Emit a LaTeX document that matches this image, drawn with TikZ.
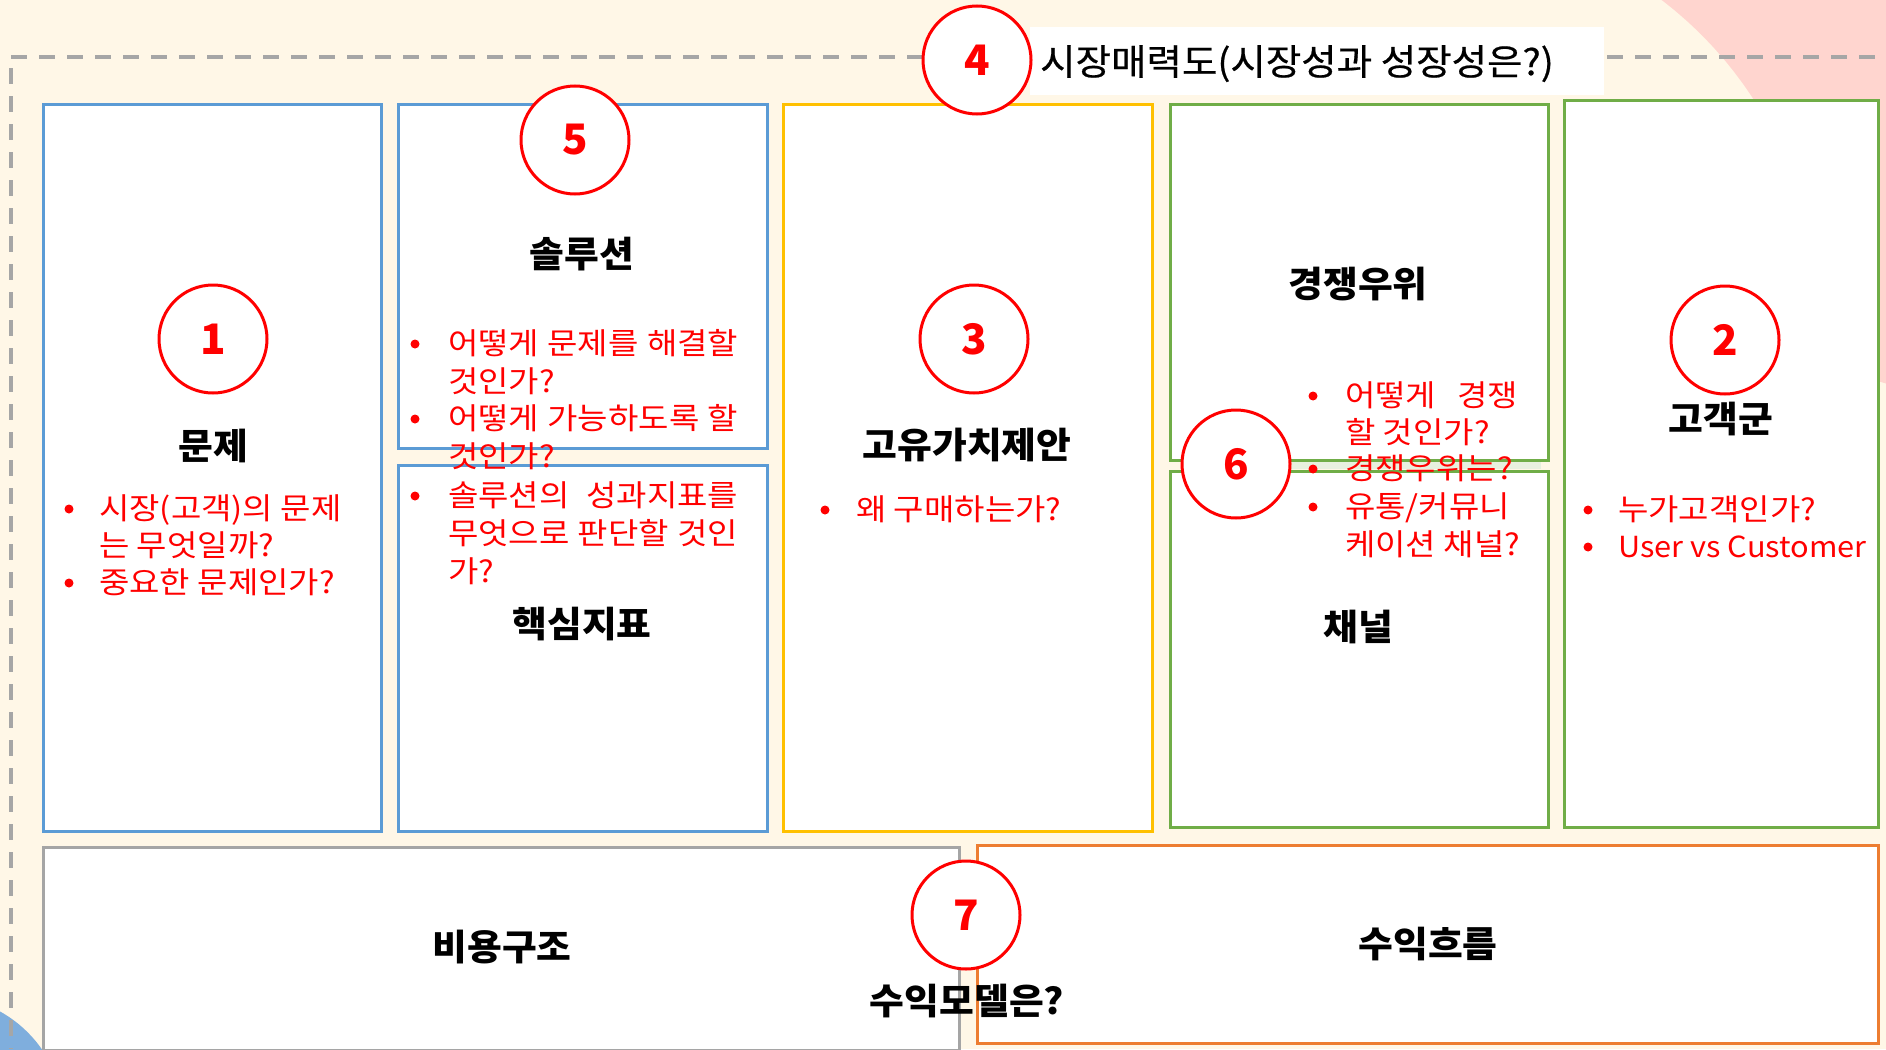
\documentclass[tikz,border=0pt]{standalone}
\usepackage{fontspec}
\setmainfont{Noto Sans CJK KR}
\newfontfamily\redfont[FakeStretch=1.10]{Noto Sans CJK KR}
\newfontfamily\latinredfont[FakeStretch=1.06]{Noto Sans CJK KR}
\newfontfamily\headfont[FakeStretch=1.05]{Noto Sans CJK KR}
\newfontfamily\titlefont[FakeStretch=1.07,FakeBold=0.6]{Noto Sans CJK KR}
\definecolor{cream}{HTML}{FFF7E7}
\definecolor{pinkbg}{HTML}{FFD5CF}
\definecolor{bluebg}{HTML}{7FAEDD}
\definecolor{dashgrey}{HTML}{A6A6A6}
\definecolor{bblue}{HTML}{5B9BD5}
\definecolor{byellow}{HTML}{FFC000}
\definecolor{bgreen}{HTML}{70AD47}
\definecolor{borange}{HTML}{ED7D31}
\definecolor{bgrey}{HTML}{A5A5A5}
\definecolor{pgreen}{HTML}{E8F0DF}
\definecolor{myred}{HTML}{FF0000}
\tikzset{
  dashline/.style={draw=dashgrey, line width=4pt, dash pattern=on 16pt off 12pt},
  cbox/.style={fill=white, line width=3pt},
  numc/.style={circle, draw=myred, line width=3pt, fill=white, minimum size=108pt, inner sep=0pt,
     text=myred, font=\fontsize{42}{42}\selectfont\bfseries},
  head/.style={anchor=base, inner sep=0pt, font=\headfont\fontsize{36}{42}\selectfont\bfseries, text=black},
  redt/.style={anchor=base west, inner sep=0pt, font=\redfont\fontsize{30}{37}\selectfont, text=myred},
  bul/.style={fill=myred},
}
\begin{document}
\begin{tikzpicture}[x=1pt, y=-1pt]
\useasboundingbox (0,0) rectangle (1886,1049);
\clip (0,0) rectangle (1886,1049);
% background
\fill[cream] (0,0) rectangle (1886,1049);
\fill[pinkbg] (2000,0) circle (400);
\fill[cream] (1424,312) circle (392);
\fill[bluebg] (-60,1120) circle (124);
% dashed frame
\coordinate (dh0) at (11,57);
\coordinate (dh1) at (1886,57);
\coordinate (dv0) at (11,68);
\coordinate (dv1) at (11,1049);
\draw[dashline] (dh0) -- (dh1);
\draw[dashline] (dv0) -- (dv1);
% boxes
\draw[cbox, draw=bblue] (43,104) rectangle (381,831);
\draw[cbox, draw=bblue] (398,104) rectangle (767,448);
\draw[cbox, draw=bblue] (398,465) rectangle (767,831);
\draw[cbox, draw=byellow] (783,104) rectangle (1152,831);
\draw[cbox, draw=bgreen] (1170,104) rectangle (1548,460);
\draw[cbox, draw=bgreen] (1170,471) rectangle (1548,827);
\draw[cbox, draw=bgreen] (1564,100) rectangle (1878,827);
\draw[cbox, draw=bgrey] (43,847) rectangle (959,1050);
\draw[cbox, draw=borange] (977,845) rectangle (1878,1043);
\fill[pgreen] (1185,462) rectangle (1541,469);
% title
\fill[white] (1030,27) rectangle (1604,95);
\node[anchor=base west, inner sep=0pt, font=\titlefont\fontsize{36}{42}\selectfont] (title) at (1040,75) {시장매력도(시장성과 성장성은?)};
% number circles
\node[numc] (n1) at (213,339) {1};
\node[numc] (n2) at (1725,340) {2};
\node[numc] (n3) at (974,339) {3};
\node[numc] (n4) at (977,60) {4};
\node[numc] (n5) at (575,140) {5};
\node[numc] (n6) at (1236,464) {6};
\node[numc] (n7) at (966,915) {7};
% headings
\node[head] (h1) at (213,459) {문제};
\node[head] (h2) at (582,267) {솔루션};
\node[head] (h3) at (582,637) {핵심지표};
\node[head] (h4) at (967,458) {고유가치제안};
\node[head] (h5) at (1358,297) {경쟁우위};
\node[head] (h6) at (1358,640) {채널};
\node[head] (h7) at (1721,432) {고객군};
\node[head] (h8) at (502,960) {비용구조};
\node[head] (h9) at (1428,957) {수익흐름};
\node[head] (h10) at (967,1014) {수익모델은?};
% box 1 bullets
\fill[bul] (69,509) circle (4.5);
\fill[bul] (69,583) circle (4.5);
\node[redt] (a1) at (99,519) {시장(고객)의 문제};
\node[redt] (a2) at (99,556) {는 무엇일까?};
\node[redt] (a3) at (99,593) {중요한 문제인가?};
% solution bullets
\fill[bul] (415,344) circle (4.5);
\fill[bul] (415,419) circle (4.5);
\node[redt] (b1) at (448,354) {\makebox[290pt][s]{어떻게 문제를 해결할}};
\node[redt] (b2) at (448,392) {것인가?};
\node[redt] (b3) at (448,429) {\makebox[290pt][s]{어떻게 가능하도록 할}};
\node[redt] (b4) at (448,467) {것인가?};
% metric bullets
\fill[bul] (415,496) circle (4.5);
\node[redt] (c1) at (448,506) {\makebox[290pt][s]{솔루션의 성과지표를}};
\node[redt] (c2) at (448,544) {\makebox[290pt][s]{무엇으로 판단할 것인}};
\node[redt] (c3) at (448,582) {가?};
% value bullets
\fill[bul] (825,510) circle (4.5);
\node[redt] (d1) at (856,520) {왜 구매하는가?};
% competitive / channel bullets
\fill[bul] (1313,396) circle (4.5);
\fill[bul] (1313,469) circle (4.5);
\fill[bul] (1313,507) circle (4.5);
\node[redt] (e1) at (1345,406) {\makebox[173pt][s]{어떻게 경쟁}};
\node[redt] (e2) at (1345,443) {할 것인가?};
\node[redt] (e3) at (1345,479) {경쟁우위는?};
\node[redt] (e4) at (1345,517) {유통/커뮤니};
\node[redt] (e5) at (1345,555) {케이션 채널?};
% customer bullets
\fill[bul] (1588,510) circle (4.5);
\fill[bul] (1588,547) circle (4.5);
\node[redt] (f1) at (1618,520) {누가고객인가?};
\node[redt, font=\latinredfont\fontsize{29}{37}\selectfont] (f2) at (1618,557) {User vs Customer};
\end{tikzpicture}
\end{document}
